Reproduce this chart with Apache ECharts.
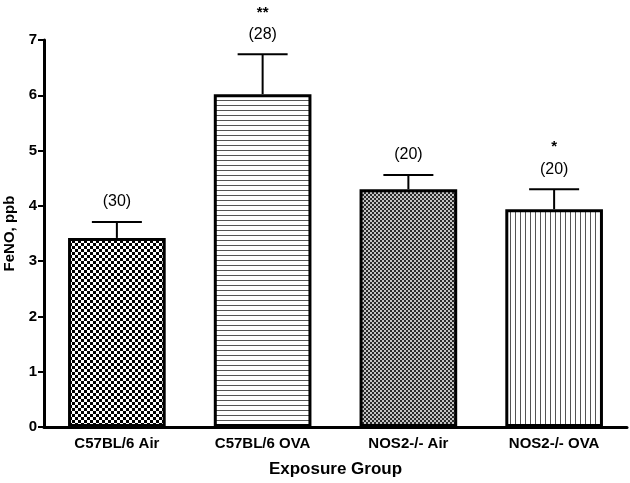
<!DOCTYPE html>
<html><head><meta charset="utf-8">
<script src="https://cdn.jsdelivr.net/npm/echarts@6/dist/echarts.min.js"></script>
<style>html,body{margin:0;padding:0;background:#fff}#c{width:630px;height:483px}</style>
</head><body><div id="c"></div>
<script>
var categories = ['C57BL/6 Air', 'C57BL/6 OVA', 'NOS2-/- Air', 'NOS2-/- OVA'];
var means = [3.42, 6.02, 4.30, 3.94];
var errUpper = [3.71, 6.74, 4.56, 4.30];
var nLabels = ['(30)', '(28)', '(20)', '(20)'];
var sigLabels = ['', '**', '', '*'];
var yTicks = [0, 1, 2, 3, 4, 5, 6, 7];

function makePattern(kind) {
  var c = document.createElement('canvas');
  var ctx = c.getContext('2d');
  if (kind === 'check') {
    c.width = 6; c.height = 6;
    ctx.fillStyle = '#fff'; ctx.fillRect(0,0,6,6);
    ctx.fillStyle = '#000'; ctx.fillRect(0,0,3,3); ctx.fillRect(3,3,3,3);
  } else if (kind === 'fine') {
    c.width = 4; c.height = 4;
    ctx.fillStyle = '#c4c4c4'; ctx.fillRect(0,0,4,4);
    ctx.fillStyle = '#2a2a2a'; ctx.fillRect(0,0,2,2); ctx.fillRect(2,2,2,2);
  } else if (kind === 'hline') {
    c.width = 6; c.height = 5;
    ctx.fillStyle = '#fff'; ctx.fillRect(0,0,6,5);
    ctx.fillStyle = '#555'; ctx.fillRect(0,0,6,1);
  } else {
    c.width = 5; c.height = 6;
    ctx.fillStyle = '#fff'; ctx.fillRect(0,0,5,6);
    ctx.fillStyle = '#555'; ctx.fillRect(0,0,1,6);
  }
  return {image: c, repeat: 'repeat'};
}
var patterns = [makePattern('check'), makePattern('hline'), makePattern('fine'), makePattern('vline')];

var font = 'Liberation Sans, Arial, sans-serif';
var chart = echarts.init(document.getElementById('c'), null, {renderer: 'canvas'});
chart.setOption({
  animation: false,
  backgroundColor: '#fff',
  grid: {left: 44, right: 3, top: 40, bottom: 56, containLabel: false, outerBoundsMode: 'none'},
  xAxis: {
    type: 'category', data: categories,
    name: 'Exposure Group', nameLocation: 'middle', nameGap: 34,
    nameTextStyle: {fontFamily: font, fontWeight: 'bold', fontSize: 17, color: '#000'},
    axisLine: {lineStyle: {color: '#000', width: 3}},
    axisTick: {alignWithLabel: true, length: 6, lineStyle: {color: '#000', width: 2}},
    axisLabel: {fontFamily: font, fontWeight: 'bold', fontSize: 15, color: '#000', margin: 9, interval: 0},
    splitLine: {show: false}
  },
  yAxis: {
    type: 'value', min: 0, max: 7, interval: 1,
    name: 'FeNO, ppb', nameLocation: 'middle', nameGap: 25, nameRotate: 90,
    nameTextStyle: {fontFamily: font, fontWeight: 'bold', fontSize: 15, color: '#000'},
    axisLine: {show: true, lineStyle: {color: '#000', width: 3}},
    axisTick: {show: true, length: 6, lineStyle: {color: '#000', width: 2}},
    axisLabel: {fontFamily: font, fontWeight: 'bold', fontSize: 15, color: '#000', margin: 7,
      formatter: function (v) { return yTicks.indexOf(v) >= 0 ? String(v) : ''; }},
    splitLine: {show: false}
  },
  series: [{
    type: 'bar', barWidth: '67%',
    data: means.map(function (v, i) {
      return {value: v, itemStyle: {color: patterns[i], borderColor: '#000', borderWidth: 3}};
    })
  }, {
    type: 'custom',
    data: means.map(function (v, i) { return [i, v, errUpper[i]]; }),
    renderItem: function (params, api) {
      var i = params.dataIndex;
      var p0 = api.coord([api.value(0), api.value(1)]);
      var p1 = api.coord([api.value(0), api.value(2)]);
      var half = 25;
      var children = [
        {type: 'line', shape: {x1: p0[0], y1: p0[1], x2: p1[0], y2: p1[1]}, style: {stroke: '#000', lineWidth: 2}},
        {type: 'line', shape: {x1: p1[0] - half, y1: p1[1], x2: p1[0] + half, y2: p1[1]}, style: {stroke: '#000', lineWidth: 2}},
        {type: 'text', style: {text: nLabels[i], x: p1[0], y: p1[1] - 20, align: 'center', verticalAlign: 'middle',
          font: '16px ' + font, fill: '#000'}}
      ];
      if (sigLabels[i]) {
        children.push({type: 'text', style: {text: sigLabels[i], x: p1[0], y: p1[1] - 42, align: 'center', verticalAlign: 'middle',
          font: 'bold 15px ' + font, fill: '#000'}});
      }
      return {type: 'group', children: children};
    },
    z: 5
  }]
});
</script></body></html>
